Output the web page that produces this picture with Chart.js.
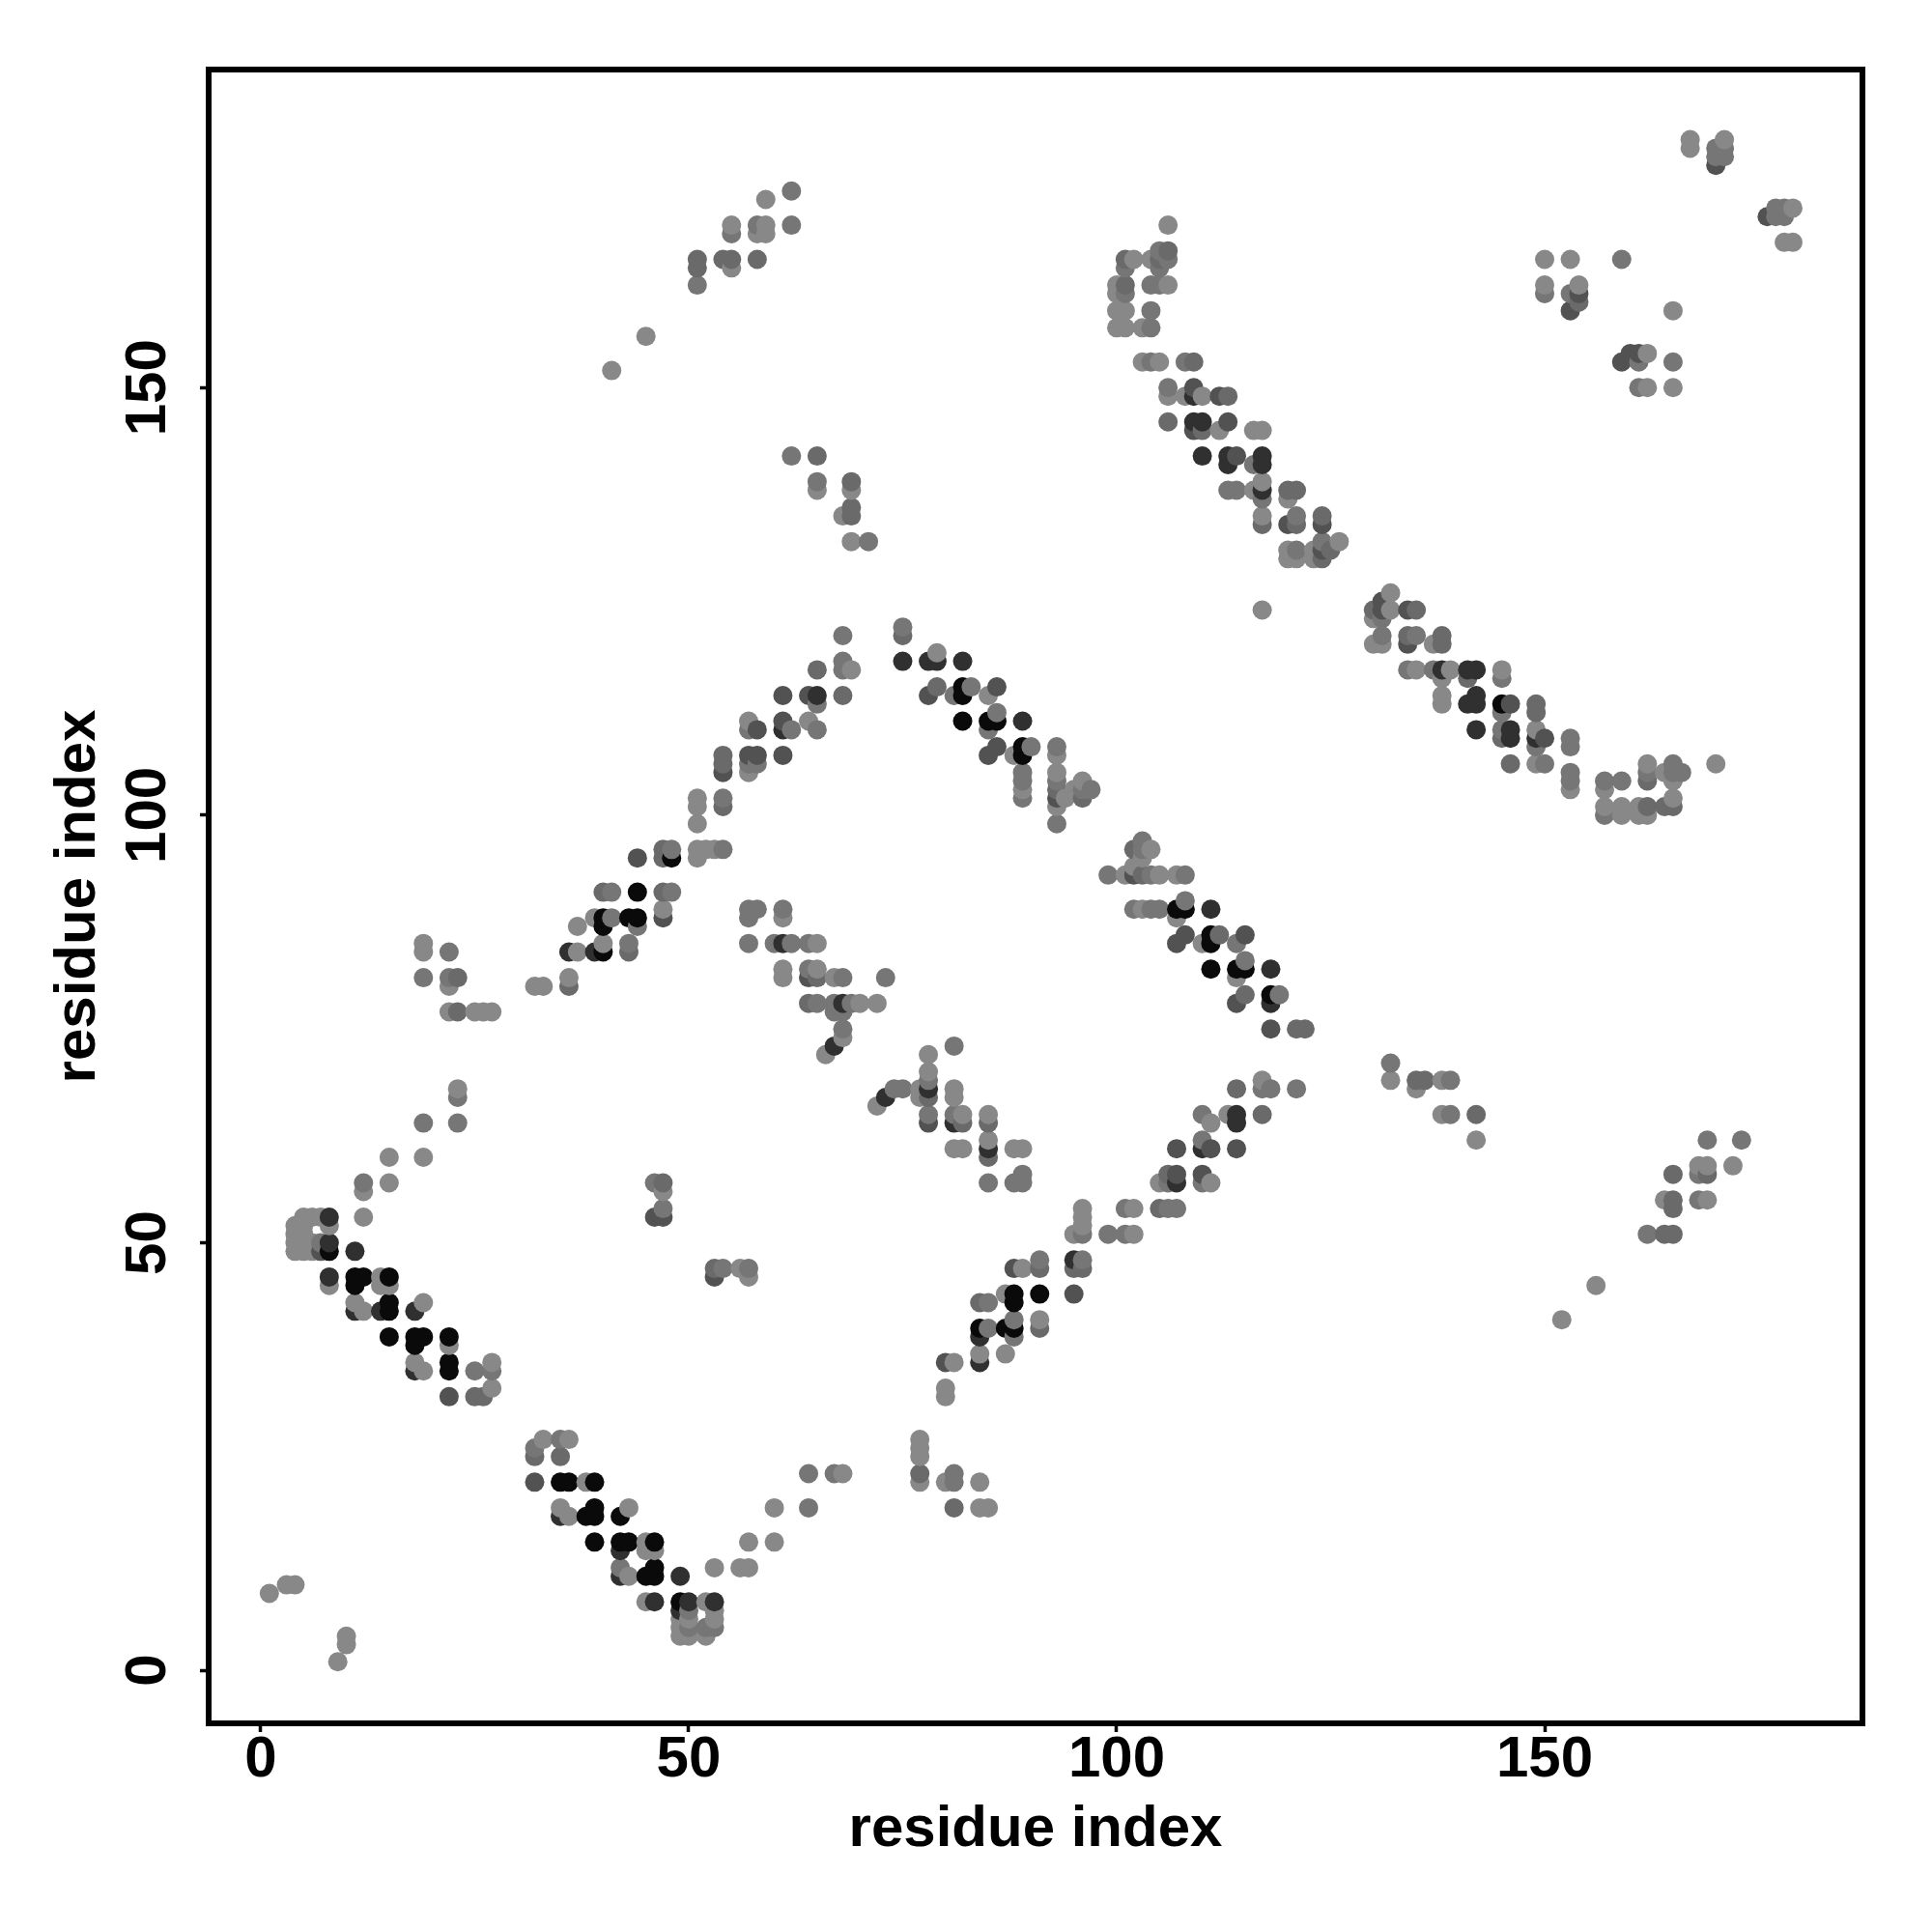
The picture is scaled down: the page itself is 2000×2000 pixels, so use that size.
<!DOCTYPE html>
<html>
<head>
<meta charset="utf-8">
<title>residue contacts</title>
<script src="https://cdn.jsdelivr.net/npm/chart.js@4"></script>
<style>
  html, body { margin: 0; padding: 0; background: #fff; }
  #wrap { width: 2000px; height: 2000px; }
</style>
</head>
<body>
<div id="wrap"><canvas id="myChart" width="2000" height="2000"></canvas></div>
<script>
const tickValues = [0, 50, 100, 150];
const xTitle = "residue index";
const yTitle = "residue index";

// [residue x, residue y], grouped by how dark the dot is
const contactsLight = [
  [1,9],[3,10],[4,10],[10,4],[10,3],[9,1],[4,52],[5,53],[6,53],[7,53],[8,52],[5,52],[4,50],[4,49],[5,50],[5,49],[6,49],[6,50],[5,51],[4,51],
  [8,45],[14,46],[14,45],[15,45],[11,43],[12,42],[19,43],[22,38],[18,36],[19,35],[27,36],[27,33],
  [33,27],[36,27],[35,19],[36,18],[38,22],[43,19],[45,15],[45,14],[46,14],[43,11],[53,12],[56,12],[57,12],[45,8],[52,8],
  [49,6],[49,5],[49,4],[50,6],[50,4],[52,4],[53,7],[53,6],
  [12,56],[15,57],[12,53],[15,60],[19,60],[47,56],[56,47],[57,46],
  [23,68],[19,85],[19,84],[22,80],[22,77],[25,77],[26,77],[27,77],[32,80],[33,80],[36,81],[37,84],[40,85],[37,87],[39,88],[47,89],
  [51,96],[51,95],[52,96],[53,96],[51,99],[51,102],[51,101],
  [57,111],[57,105],[64,111],[69,117],[79,119],[85,114],[88,107],[89,103],[93,107],[93,105],[93,101],[94,102],[95,103],[96,104],
  [101,93],[105,93],[107,93],[104,96],[102,94],[103,95],[103,89],[107,88],[110,85],[114,81],
  [61,88],[65,85],[61,82],[61,81],[65,82],[67,81],[70,78],[72,78],[68,74],[66,72],
  [72,66],[77,68],[78,72],[78,70],[77,67],[81,68],[81,67],
  [82,65],[85,65],[85,62],[81,61],[82,61],[88,61],[89,61],
  [96,54],[96,53],[96,52],[95,51],[102,51],[102,54],[89,47],[87,44],[91,41],[84,37],[87,37],[81,36],[80,33],[80,32],
  [77,27],[77,26],[77,25],[77,22],[80,22],[84,22],[84,19],[85,19],
  [117,69],[111,64],[113,65],[105,57],[111,57],
  [132,69],[135,68],[138,69],[138,65],[142,62],[152,41],[156,45],[164,55],[168,59],[169,59],[169,55],[172,59],
  [106,169],[102,165],[104,165],[100,162],[106,162],[100,161],[100,159],[101,159],[100,157],[101,157],[103,157],
  [103,153],[105,153],[106,149],[108,149],[110,149],[112,145],[116,145],[117,145],[116,138],[117,139],[120,137],[117,135],
  [120,131],[120,130],[121,130],[123,131],[123,130],[126,132],[117,124],
  [132,126],[132,124],[130,123],[130,120],[131,120],[137,120],[135,117],[139,117],[138,116],[145,117],[138,114],[138,113],
  [149,110],[149,106],[153,103],[157,103],[159,101],[159,100],[157,101],[161,101],[161,100],[162,100],[162,106],[164,105],[165,104],[165,102],[170,106],
  [150,165],[153,165],[150,162],[154,162],[167,179],[167,178],[171,179],[179,171],[178,167],[179,167],[165,159],[162,154],[162,150],[165,150],
  [59,172],[55,169],[59,169],[58,168],[59,168],[55,164],[45,156],[41,152],[65,138],[69,138],[68,135],[69,132],
  [68,23],[60,19],[60,15],[57,15]
];
const contactsMid = [
  [7,50],[25,35],[27,35],[32,26],[35,27],[42,12],[50,7],[50,5],[52,5],[53,5],[12,57],[46,57],[47,54],[54,47],[57,47],
  [19,64],[23,64],[23,67],[22,84],[19,81],[22,81],[43,85],[41,88],[44,87],[41,91],[48,91],[48,96],[54,96],[57,89],[57,88],[57,85],
  [54,102],[57,110],[57,106],[58,106],[62,110],[65,113],[65,110],[68,121],[68,118],[68,117],[75,122],[81,114],[83,115],[86,112],[85,110],[90,108],
  [89,105],[89,104],[89,102],[93,108],[93,104],[93,99],[96,103],[97,103],
  [99,93],[104,93],[108,93],[103,97],[103,96],[102,89],[104,89],[105,89],[108,90],[114,85],[115,83],[119,79],
  [58,89],[61,89],[60,85],[62,85],[64,85],[64,82],[68,81],[73,81],[65,78],[67,78],[69,78],[67,77],[68,77],[68,75],
  [74,68],[75,68],[78,69],[81,73],[78,65],[81,65],[85,57],[88,57],[89,57],[89,58],
  [96,51],[99,51],[101,51],[101,54],[106,54],[107,54],[96,48],[91,48],[85,43],[85,40],[88,41],[88,39],[81,23],[81,22],
  [117,68],[118,68],[121,68],[110,65],[110,62],[110,57],[106,57],
  [132,71],[139,69],[139,65],[162,51],[168,58],[168,55],[169,62],[173,62],
  [101,164],[105,166],[106,165],[105,164],[101,161],[104,162],[105,162],[104,159],[104,157],[104,153],[108,153],
  [106,150],[116,141],[113,138],[114,138],[117,137],[121,135],[121,131],[124,132],
  [131,123],[131,121],[135,121],[134,117],[137,117],[145,116],[145,112],[145,110],[149,108],[153,109],[153,108],[150,106],[153,105],[153,104],
  [157,104],[159,104],[157,100],[162,105],[165,106],[165,105],[166,105],
  [150,161],[153,161],[170,178],[170,177],[171,178],[171,177],[177,171],[177,170],[178,171],[178,170],[159,165],[161,153],[165,153],[161,150],
  [62,173],[62,169],[55,168],[58,169],[51,162],[62,142],[65,139],[71,132],
  [64,23],[64,19],[67,23]
];
const contactsDim = [
  [25,32],[26,32],[32,25],[35,25],[47,57],[53,47],[23,81],[23,77],[36,80],[43,84],[40,91],[47,91],[47,96],[47,95],
  [54,107],[54,106],[54,101],[65,117],[68,114],[75,121],[79,115],[93,103],[96,102],
  [103,93],[102,96],[112,86],[115,79],[121,75],[122,75],
  [65,81],[64,78],[78,67],[82,64],[85,64],[85,60],[105,54],[95,47],[96,47],[91,47],[84,43],[91,40],[77,23],[81,19],
  [114,68],[117,65],[106,58],
  [135,69],[136,69],[142,65],[164,51],[165,51],[165,55],[165,54],[165,58],[169,58],
  [101,165],[106,166],[105,165],[101,162],[106,146],[109,153],[113,149],[110,145],[120,138],[121,138],[117,134],[121,134],[124,135],[124,130],[125,131],
  [130,124],[135,124],[134,121],[138,121],[138,120],[141,116],[149,113],[149,112],[145,109],[146,106],[162,104],[162,101],[164,101],[165,101],
  [154,160],[51,165],[51,164],[54,165],[55,165],[58,165],[65,142],[69,139],[69,136],[69,135]
];
const contactsDark = [
  [7,49],[22,32],[32,22],[46,53],[47,53],[53,46],[47,88],[44,95],[54,105],[58,110],[57,107],[58,107],[61,114],[61,111],[61,107],[64,114],
  [78,114],[86,115],[85,107],[86,108],[93,102],[102,93],[107,85],[108,86],[115,86],[114,78],[118,75],
  [64,81],[78,64],[107,61],[111,61],[114,61],[107,58],[110,58],[95,44],[88,47],[80,36],
  [109,150],[112,149],[109,145],[113,146],[114,142],[120,134],[124,134],[124,131],[131,125],[131,124],[134,124],[134,120],
  [146,113],[150,109],[154,161],[153,159],[159,153],[160,154],[161,154],[176,170],[170,176]
];
const contactsDeep = [
  [8,53],[8,50],[11,49],[8,46],[18,35],[11,42],[14,42],[18,42],[35,18],[42,14],[42,11],[49,11],[46,8],[50,8],[53,8],[49,7],
  [36,84],[39,84],[61,110],[65,114],[75,118],[78,118],[79,118],[82,118],[89,111],[111,89],[118,82],[118,78],
  [61,85],[68,78],[67,73],[73,67],[78,68],[81,64],[85,61],[95,48],[84,39],[84,36],[114,65],[114,64],[110,61],[107,57],
  [109,149],[109,146],[110,146],[110,142],[113,141],[117,142],[117,141],[113,142],[117,138],
  [141,117],[142,117],[141,113],[142,114],[142,113],[142,110],[146,110],[146,109],[149,109],[138,117]
];
const contactsBlack = [
  [8,49],[11,46],[12,46],[11,45],[15,46],[15,43],[15,42],[15,39],[18,39],[19,39],[18,38],[22,39],[22,36],[22,35],
  [35,22],[36,22],[39,22],[38,18],[39,19],[39,18],[42,18],[39,15],[42,15],[43,15],[46,15],[45,11],[46,12],[46,11],[49,8],
  [40,84],[40,88],[40,87],[43,88],[44,88],[44,91],[48,95],
  [82,115],[82,114],[82,111],[85,111],[86,111],[89,108],[89,107],[107,89],[108,89],[111,86],[111,85],[111,82],[114,82],[115,82],[118,79],
  [88,44],[88,43],[91,44],[84,40],[87,40],[88,40],[145,113]
];

function gatherPoints()
{
    const groups = [
        [contactsLight, 136],
        [contactsMid, 118],
        [contactsDim, 106],
        [contactsDark, 82],
        [contactsDeep, 48],
        [contactsBlack, 10]
    ];
    let points = [];
    for (const [list, grey] of groups) {
        for (const [x, y] of list) {
            points.push({ x: x, y: y, grey: grey });
        }
    }
    // later residues paint over earlier ones, like the original plot
    points.sort((a, b) => a.x - b.x || a.y - b.y);
    return points;
}

const points = gatherPoints();

const frame = {
    id: "frame",
    afterDraw(chart) {
        const { ctx, chartArea: a } = chart;
        ctx.save();
        ctx.strokeStyle = "#000";
        ctx.lineWidth = 6;
        ctx.strokeRect(a.left, a.top, a.right - a.left, a.bottom - a.top);
        ctx.restore();
    }
};

const tickFont = { family: "'Liberation Sans'", weight: "bold", size: 60 };
const titleFont = { family: "'Liberation Sans'", weight: "bold", size: 60 };

new Chart(document.getElementById("myChart").getContext("2d"), {
    type: "scatter",
    data: {
        datasets: [{
            data: points,
            pointRadius: 10,
            pointHoverRadius: 10,
            pointBorderWidth: 0,
            pointBackgroundColor: points.map(p => `rgb(${p.grey},${p.grey},${p.grey})`)
        }]
    },
    options: {
        responsive: false,
        animation: false,
        layout: { padding: { left: 0, right: 72, top: 72, bottom: 0 } },
        plugins: { legend: { display: false }, tooltip: { enabled: false } },
        scales: {
            x: {
                type: "linear",
                min: -6.09,
                max: 187.13,
                afterBuildTicks: s => { s.ticks = tickValues.map(v => ({ value: v })); },
                afterFit: s => { s.height = 216; },
                grid: { drawOnChartArea: false, drawTicks: true, tickLength: 9, tickWidth: 3.5, tickColor: "#000" },
                border: { display: false },
                ticks: { color: "#000", font: tickFont, padding: -7, maxRotation: 0, minRotation: 0 },
                title: { display: true, text: xTitle, color: "#000", font: titleFont, padding: { top: 10, bottom: 70 } }
            },
            y: {
                type: "linear",
                min: -6.2,
                max: 187.2,
                afterBuildTicks: s => { s.ticks = tickValues.map(v => ({ value: v })); },
                afterFit: s => { s.width = 216; },
                grid: { drawOnChartArea: false, drawTicks: true, tickLength: 9, tickWidth: 3.5, tickColor: "#000" },
                border: { display: false },
                ticks: { color: "#000", font: tickFont, padding: 2, minRotation: 90, maxRotation: 90, crossAlign: "center" },
                title: { display: true, text: yTitle, color: "#000", font: titleFont, padding: { top: 45, bottom: 10 } }
            }
        }
    },
    plugins: [frame]
});
</script>
</body>
</html>
